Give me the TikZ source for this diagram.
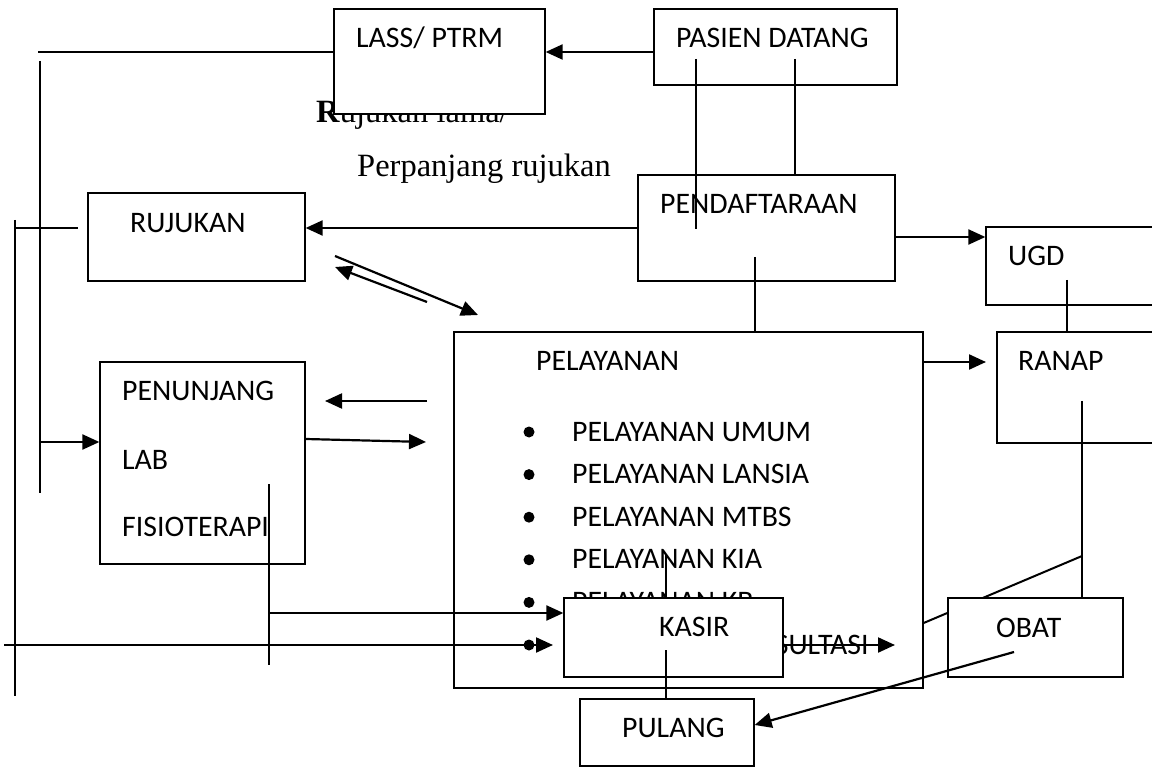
\documentclass[tikz,border=0pt]{standalone}
\usepackage{fontspec}
\setmainfont{Carlito}
\newfontfamily\timesfont{Liberation Serif}
\usetikzlibrary{arrows.meta}
\newcommand{\calib}{\fontsize{29.8pt}{35pt}\selectfont}
\newcommand{\serifbig}{\timesfont\fontsize{32.5pt}{38pt}\selectfont}

\begin{document}
\begin{tikzpicture}[x=1pt, y=-1pt,
    box/.style={draw, fill=white, line width=1.3pt, inner sep=0pt},
    lbl/.style={inner sep=0pt, anchor=base west, font=\calib},
    arr/.style={line width=2.2pt, -{Triangle[length=17pt,width=15pt]}},
    ln/.style={line width=2pt},
    thinln/.style={line width=1.4pt}]
\clip (0,0) rectangle (1152,767);

% tulisan di bawah LASS
\node[lbl, font=\serifbig] (lama) at (316,123) {\textbf{R}ujukan lama/};
\node[lbl, font=\serifbig] (panjang) at (357,177) {Perpanjang rujukan};

% kotak
\node[box, minimum width=211pt, minimum height=105pt] (lass) at (439.5,61.5) {};
\node[box, minimum width=243pt, minimum height=76pt] (pasien) at (775.5,47) {};
\node[box, minimum width=257pt, minimum height=106pt] (daftar) at (766.5,228) {};
\node[box, minimum width=217pt, minimum height=88pt] (rujukan) at (196.5,237) {};
\node[box, minimum width=214pt, minimum height=78pt] (ugd) at (1093,266) {};
\node[box, minimum width=469pt, minimum height=356pt] (layan) at (688.5,510) {};
\node[box, minimum width=203pt, minimum height=111pt] (ranap) at (1098.5,387.5) {};
\node[box, minimum width=205pt, minimum height=202pt] (tunjang) at (202.5,463) {};

\node[lbl] (lasst) at (356,48) {LASS/ PTRM};
\node[lbl] (pasient) at (676,48) {PASIEN DATANG};
\node[lbl] (daftart) at (660,214) {PENDAFTARAAN};
\node[lbl] (rujukant) at (130,233) {RUJUKAN};
\node[lbl] (ugdt) at (1008,266) {UGD};
\node[lbl] (layant) at (536,371) {PELAYANAN};
\node[lbl] (ranapt) at (1018,371) {RANAP};
\node[lbl] (tunjangt) at (122,401) {PENUNJANG};
\node[lbl] (labt) at (122,469) {LAB};
\node[lbl] (fisiot) at (122,536) {FISIOTERAPI};

\foreach \svc [count=\i] in {PELAYANAN UMUM, PELAYANAN LANSIA, PELAYANAN MTBS,
    PELAYANAN KIA, PELAYANAN KB, PELAYANAN KONSULTASI} {
  \fill (529,{432+42.6*(\i-1)}) circle (5.5pt);
  \node[lbl] (svc\i) at (572,{441+42.6*(\i-1)}) {\svc};
}

% garis di belakang OBAT
\coordinate (ranapbawah) at (1082,401);
\coordinate (belok) at (1082,556);
\draw[ln] (belok) -- (layan.east |- 0,623);

\node[box, minimum width=219pt, minimum height=79pt] (kasir) at (673.5,637.5) {};
\node[box, minimum width=175pt, minimum height=79pt] (obat) at (1035.5,637.5) {};
\node[box, minimum width=174pt, minimum height=67pt] (pulang) at (667,732.5) {};
\node[lbl] (kasirt) at (659,636) {KASIR};
\node[lbl] (obatt) at (996,637) {OBAT};
\node[lbl] (pulangt) at (622,737) {PULANG};

% atas
\draw[arr] (pasien.west |- 0,52) -- (lass.east |- 0,52);
\coordinate (kiriatas) at (38,52);
\draw[thinln] (lass.west |- 0,52) -- (kiriatas);
\coordinate (pasienkiri) at (696,59);
\coordinate (daftardalam) at (696,229);
\draw[thinln] (pasienkiri) -- (daftardalam);
\draw[ln] (795,59) -- (daftar.north -| 795,0);
\draw[ln] (755,257) -- (layan.north -| 755,0);
\draw[arr] (daftar.east |- 0,237) -- (ugd.west |- 0,237);
\draw[ln] (1067,280) -- (ranap.north -| 1067,0);
\draw[arr] (layan.east |- 0,362) -- (986,362);
\draw[thinln] (ranapbawah) -- (obat.north -| ranapbawah);
\draw[arr] (daftar.west) -- (rujukan.east |- daftar.west);

% kiri
\coordinate (garisa) at (40,61);
\coordinate (garisb) at (40,493);
\draw[thinln] (garisa) -- (garisb);
\draw[arr] (40,442) -- (tunjang.west |- 0,442);
\coordinate (garisc) at (15,220);
\coordinate (garisd) at (15,696);
\draw[thinln] (garisc) -- (garisd);
\draw[thinln] (15,228) -- (78,228);

% rujukan - pelayanan
\coordinate (d1a) at (335,256);
\coordinate (d1b) at (478,315);
\coordinate (d2a) at (427,302);
\coordinate (d2b) at (335,267);
\draw[arr] (d1a) -- (d1b);
\draw[arr] (d2a) -- (d2b);

% penunjang - pelayanan
\coordinate (pa) at (427,401);
\coordinate (pb) at (325,401);
\draw[arr] (pa) -- (pb);
\coordinate (pc) at (426,442);
\draw[arr] (tunjang.east |- 0,439) -- (pc);
\coordinate (fa) at (269,484);
\coordinate (fb) at (269,665);
\draw[thinln] (fa) -- (fb);
\draw[arr] (269,613) -- (kasir.west |- 0,613);
\coordinate (kiribawah) at (4,645);
\coordinate (kasirmasuk) at (553,645);
\draw[arr] (kiribawah) -- (kasirmasuk);
\coordinate (sultasi) at (895,645);
\draw[arr] (kasir.east |- 0,645) -- (sultasi);

% kasir, obat, pulang
\draw[ln] (666,554) -- (kasir.north -| 666,0);
\draw[ln] (666,650) -- (pulang.north -| 666,0);
\coordinate (obatdalam) at (1014,652);
\draw[arr] (obatdalam) -- (pulang.east |- 0,725);
\end{tikzpicture}
\end{document}
